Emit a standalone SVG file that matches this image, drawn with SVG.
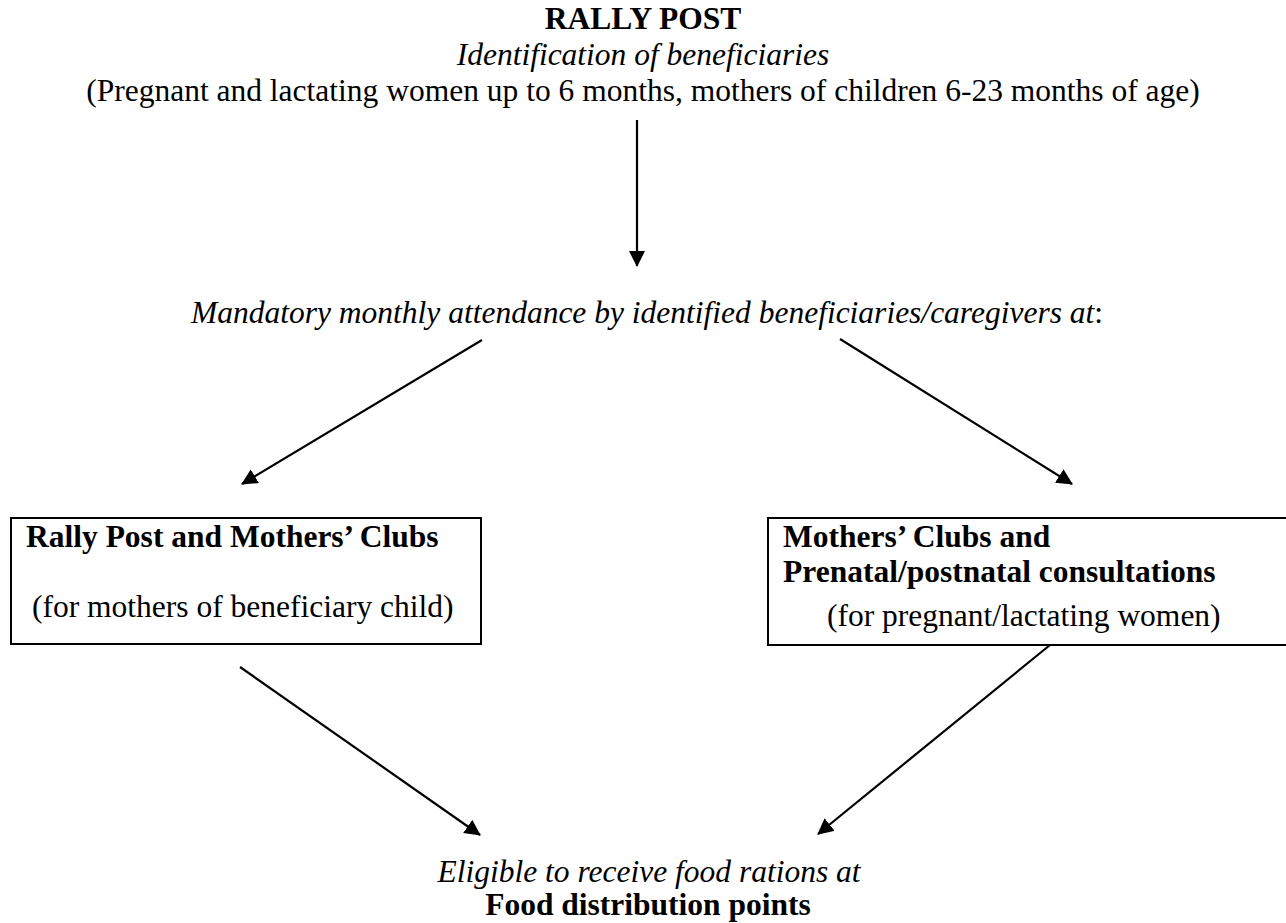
<svg xmlns="http://www.w3.org/2000/svg" width="1286" height="923" viewBox="0 0 1286 923">
  <style>
    text { font-family: "Liberation Serif", "Times New Roman", serif; font-size: 31.5px; fill: #000; }
    .b { font-weight: bold; }
    .i { font-style: italic; }
    .mid { text-anchor: middle; }
    .box { fill: none; stroke: #000; stroke-width: 2; }
    .link { stroke: #000; stroke-width: 2.2; fill: none; marker-end: url(#head); }
  </style>
  <defs>
    <marker id="head" markerUnits="userSpaceOnUse" markerWidth="18" markerHeight="18" refX="15" refY="8" orient="auto">
      <path d="M0,0 L16,8 L0,16 Z" fill="#000"/>
    </marker>
  </defs>

  <rect width="1286" height="923" fill="#fff"/>

  <!-- source: rally post -->
  <g id="rally-post">
    <text class="b mid" x="643" y="29">RALLY POST</text>
    <text class="i mid" x="643" y="65">Identification of beneficiaries</text>
    <text class="mid" x="643" y="101">(Pregnant and lactating women up to 6 months, mothers of children 6-23 months of age)</text>
  </g>

  <!-- attendance requirement -->
  <g id="attendance">
    <text class="mid" x="647" y="323"><tspan class="i">Mandatory monthly attendance by identified beneficiaries/caregivers at</tspan>:</text>
  </g>

  <!-- left branch box -->
  <g id="rally-clubs">
    <rect class="box" x="11" y="518" width="470" height="126"/>
    <text class="b" x="26" y="547">Rally Post and Mothers’ Clubs</text>
    <text x="32" y="617">(for mothers of beneficiary child)</text>
  </g>

  <!-- right branch box (runs past the page edge) -->
  <g id="clubs-consultations">
    <rect class="box" x="768" y="518" width="530" height="127"/>
    <text class="b" x="783" y="547">Mothers’ Clubs and</text>
    <text class="b" x="783" y="582">Prenatal/postnatal consultations</text>
    <text x="827" y="626">(for pregnant/lactating women)</text>
  </g>

  <!-- outcome -->
  <g id="food-points">
    <text class="i mid" x="649" y="882">Eligible to receive food rations at</text>
    <text class="b mid" x="648" y="915">Food distribution points</text>
  </g>

  <!-- connectors -->
  <g id="connectors">
    <line class="link" x1="637" y1="120" x2="637" y2="266"/>
    <line class="link" x1="482" y1="340" x2="242" y2="484"/>
    <line class="link" x1="840" y1="339" x2="1072" y2="484"/>
    <line class="link" x1="240" y1="667" x2="480" y2="835"/>
    <line class="link" x1="1050" y1="645" x2="818" y2="834"/>
  </g>
</svg>
